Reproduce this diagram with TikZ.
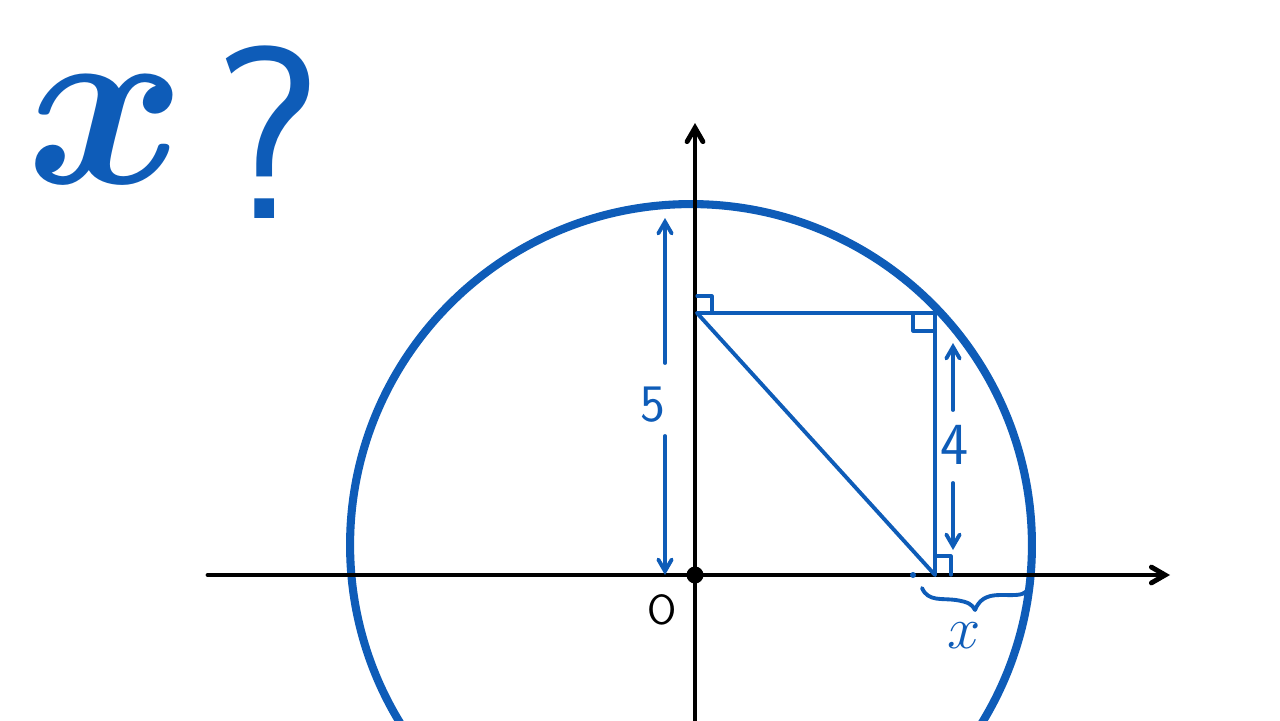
\RequirePackage{fix-cm}
\documentclass[tikz,border=0pt]{standalone}
\usepackage{pgf, tikz}
\usetikzlibrary{arrows}
\definecolor{penblue}{RGB}{14,92,184}

\begin{document}
\begin{tikzpicture} [x=0.02cm, y=-0.02cm, >=angle 60, line cap=round, line join=round,
	axis/.style={black, line width=2.8pt},
	pen/.style={penblue, line width=2.2pt},
	penlabel/.style={penblue, font=\sffamily\fontsize{30}{30}\selectfont}]
\useasboundingbox (0,0) rectangle (1280,720);
\fill[white] (0,0) rectangle (1280,720);

\path (106,183) node[anchor=base, penblue, font=\fontsize{138}{138}\selectfont\boldmath] (xq) {$x$}
	  (268,218) node[anchor=base, penblue, font=\sffamily\fontsize{140}{140}\selectfont] (qm) {?};

\coordinate (xl) at (208,575);
\coordinate (xr) at (1170,575);
\coordinate (yb) at (695,725);
\coordinate (yt) at (695,123);

\draw[pen, line width=4.6pt] (691,545) circle [radius=6.82cm];

\draw[axis, ->] (xl) -- (xr);
\draw[axis, ->] (yb) -- (yt);

\path (695,575) node[circle, fill, inner sep=0, minimum size=0.34cm] (o) {}
	  (662,610) node[font=\sffamily\fontsize{24}{24}\selectfont] (olab) {O};

\path (697,313) coordinate (a)
	  (935,313) coordinate (b)
	  (935,575) coordinate (c)
	  (913,575) coordinate (d);

\draw[pen] (a) -- (b) -- (c) -- cycle;
\draw[pen, line width=1.8pt] (697,296) -- (712,296) -- (712,313);
\draw[pen, line width=1.8pt] (913,313) -- (913,331) -- (935,331);
\draw[pen, line width=1.8pt] (937,556) -- (951,556) -- (951,575);
\fill[penblue] (d) circle [radius=0.06cm];

\path (653,405) node[penlabel] (five) {5}
	  (955,445) node[penlabel, font=\sffamily\fontsize{34}{34}\selectfont] (four) {4}
	  (964,648) node[anchor=base, penblue, font=\fontsize{34}{34}\selectfont] (xlab) {$x$};

\draw[pen, ->] (665,363) -- (665,218);
\draw[pen, ->] (665,436) -- (665,575);
\draw[pen, ->] (953,410) -- (953,343);
\draw[pen, ->] (953,483) -- (953,550);

\draw[pen] (922,588) .. controls (928,602) and (942,598) .. (956,600)
	  .. controls (968,602) and (972,604) .. (975,610)
	  .. controls (979,600) and (986,595) .. (1000,595)
	  .. controls (1014,595) and (1022,596) .. (1027,591);
\end{tikzpicture}
\end{document}
